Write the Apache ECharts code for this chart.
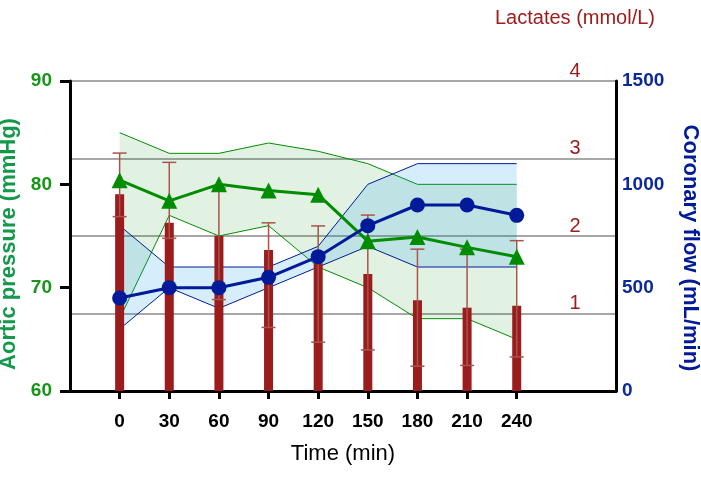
<!DOCTYPE html>
<html>
<head>
<meta charset="utf-8">
<script src="https://cdn.jsdelivr.net/npm/echarts@6/dist/echarts.min.js"></script>
<style>html,body{margin:0;padding:0;background:#fff}#c{width:701px;height:477px}</style>
</head>
<body>
<div id="c"></div>
<script>
// ---- data ----
var times = [0, 30, 60, 90, 120, 150, 180, 210, 240];
var xCategories = ['-30', '0', '30', '60', '90', '120', '150', '180', '210', '240', '270', '300'];
var pressureMean = [80.4, 78.4, 80.0, 79.4, 79.0, 74.5, 74.9, 73.9, 73.0];
var pressureUpper = [85.0, 83.0, 83.0, 84.0, 83.2, 82.0, 80.0, 80.0, 80.0];
var pressureLower = [67.0, 77.0, 75.0, 76.0, 72.0, 70.0, 67.0, 67.0, 65.0];
var flowMean = [450, 500, 500, 550, 650, 800, 900, 900, 850];
var flowUpper = [800, 600, 600, 600, 700, 1000, 1100, 1100, 1100];
var flowLower = [300, 500, 400, 500, 600, 700, 600, 600, 600];
var lactateMean = [2.54, 2.17, 2.0, 1.82, 1.65, 1.51, 1.17, 1.075, 1.10];
var lactateHigh = [3.07, 2.95, 2.62, 2.17, 2.13, 2.27, 1.83, 1.83, 1.94];
var lactateLow = [2.25, 1.97, 1.18, 0.82, 0.63, 0.53, 0.32, 0.33, 0.44];
var pressureTicks = [60, 70, 80, 90];
var flowTicks = [0, 500, 1000, 1500];
var lactateTicks = [1, 2, 3, 4];

var GREEN = '#008c00', BLUE = '#001a99', RED = '#9b1c1c';
var FONT = 'Liberation Sans, Arial, sans-serif';

function xIndex(i) { return xCategories.indexOf(String(times[i])); }
function pairs(arr) { return arr.map(function (v, i) { return [xIndex(i), v]; }); }
function diffPairs(up, lo) { return up.map(function (v, i) { return [xIndex(i), v - lo[i]]; }); }
function shownIdx(idx) { return times.indexOf(Number(xCategories[idx])) >= 0; }

var chart = echarts.init(document.getElementById('c'), null, { renderer: 'canvas' });
chart.setOption({
  animation: false,
  grid: { left: 70, right: 85, top: 81, bottom: 86, containLabel: false, outerBoundsMode: 'none' },
  xAxis: {
    type: 'category', data: xCategories, boundaryGap: false,
    name: 'Time (min)', nameLocation: 'middle', nameGap: 52,
    nameTextStyle: { fontFamily: FONT, fontSize: 22, color: '#000' },
    axisLine: { lineStyle: { color: '#000', width: 3 } },
    axisTick: { show: true, length: 8, lineStyle: { color: '#000', width: 3 }, interval: function (i) { return shownIdx(i); } },
    axisLabel: { interval: function (i) { return shownIdx(i); }, fontFamily: FONT, fontWeight: 'bold', fontSize: 19, color: '#000', margin: 21 },
    splitLine: { show: false }
  },
  yAxis: [
    {
      type: 'value', position: 'left', min: 60, max: 90, interval: 10,
      name: 'Aortic pressure (mmHg)', nameLocation: 'middle', nameGap: 48, nameRotate: 90,
      nameTextStyle: { fontFamily: FONT, fontSize: 22, fontWeight: 'bold', color: '#12994a', padding: [0, 16, 0, 0] },
      axisLine: { show: true, lineStyle: { color: '#000', width: 3 } },
      axisTick: { show: true, length: 10, lineStyle: { color: '#000', width: 3 } },
      axisLabel: { fontFamily: FONT, fontWeight: 'bold', fontSize: 19, color: '#169616', margin: 18,
        formatter: function (v) { return pressureTicks.indexOf(v) >= 0 ? String(v) : ''; } },
      splitLine: { show: false }
    },
    {
      type: 'value', position: 'right', min: 0, max: 1500, interval: 500,
      name: 'Coronary flow (mL/min)', nameLocation: 'middle', nameGap: 63, nameRotate: -90,
      nameTextStyle: { fontFamily: FONT, fontSize: 22, fontWeight: 'bold', color: BLUE, padding: [0, 0, 0, 24] },
      axisLine: { show: true, lineStyle: { color: '#000', width: 3 } },
      axisTick: { show: false },
      axisLabel: { fontFamily: FONT, fontWeight: 'bold', fontSize: 19, color: '#0a2a9a', margin: 6,
        formatter: function (v) { return flowTicks.indexOf(v) >= 0 ? String(v) : ''; } },
      splitLine: { show: false }
    },
    {
      type: 'value', position: 'right', offset: -41, min: 0, max: 4, interval: 1,
      name: 'Lactates (mmol/L)', nameLocation: 'end', nameGap: 53,
      nameTextStyle: { fontFamily: FONT, fontSize: 20, color: '#a01c1c', align: 'center' },
      axisLine: { show: false }, axisTick: { show: false },
      axisLabel: { fontFamily: FONT, fontSize: 20, color: '#a01c1c', margin: 0, align: 'center', verticalAlign: 'bottom', padding: [0, 0, 0, 0],
        formatter: function (v) { return lactateTicks.indexOf(v) >= 0 ? String(v) : ''; } },
      splitLine: { show: true, lineStyle: { color: '#8a8a8a', width: 1.5 } }
    }
  ],
  series: [
    { type: 'line', yAxisIndex: 0, stack: 'pband', data: pairs(pressureLower), symbol: 'none',
      lineStyle: { color: GREEN, width: 1 }, z: 2 },
    { type: 'line', yAxisIndex: 0, stack: 'pband', data: diffPairs(pressureUpper, pressureLower), symbol: 'none',
      lineStyle: { color: GREEN, width: 1 }, areaStyle: { color: 'rgba(0,140,0,0.165)' }, z: 2 },
    { type: 'line', yAxisIndex: 1, stack: 'fband', data: pairs(flowLower), symbol: 'none',
      lineStyle: { color: BLUE, width: 1 }, z: 3 },
    { type: 'line', yAxisIndex: 1, stack: 'fband', data: diffPairs(flowUpper, flowLower), symbol: 'none',
      lineStyle: { color: BLUE, width: 1 }, areaStyle: { color: 'rgba(24,152,236,0.25)' }, z: 3 },
    { type: 'bar', yAxisIndex: 2, data: pairs(lactateMean), barWidth: 9, itemStyle: { color: RED }, z: 4 },
    { type: 'custom', yAxisIndex: 2, z: 5,
      data: times.map(function (t, i) { return [xIndex(i), lactateLow[i], lactateHigh[i]]; }),
      renderItem: function (params, api) {
        var lo = api.coord([api.value(0), api.value(1)]);
        var hi = api.coord([api.value(0), api.value(2)]);
        var hw = 7;
        var st = { stroke: '#a8544c', lineWidth: 1.5 };
        return { type: 'group', children: [
          { type: 'line', shape: { x1: hi[0], y1: hi[1], x2: lo[0], y2: lo[1] }, style: st },
          { type: 'line', shape: { x1: hi[0] - hw, y1: hi[1], x2: hi[0] + hw, y2: hi[1] }, style: st },
          { type: 'line', shape: { x1: lo[0] - hw, y1: lo[1], x2: lo[0] + hw, y2: lo[1] }, style: st }
        ] };
      }
    },
    { type: 'line', yAxisIndex: 0, data: pairs(pressureMean), symbol: 'triangle', symbolSize: 16,
      lineStyle: { color: GREEN, width: 3 }, itemStyle: { color: GREEN }, z: 6 },
    { type: 'line', yAxisIndex: 1, data: pairs(flowMean), symbol: 'circle', symbolSize: 15,
      lineStyle: { color: BLUE, width: 3 }, itemStyle: { color: BLUE }, z: 7 }
  ]
});
</script>
</body>
</html>
